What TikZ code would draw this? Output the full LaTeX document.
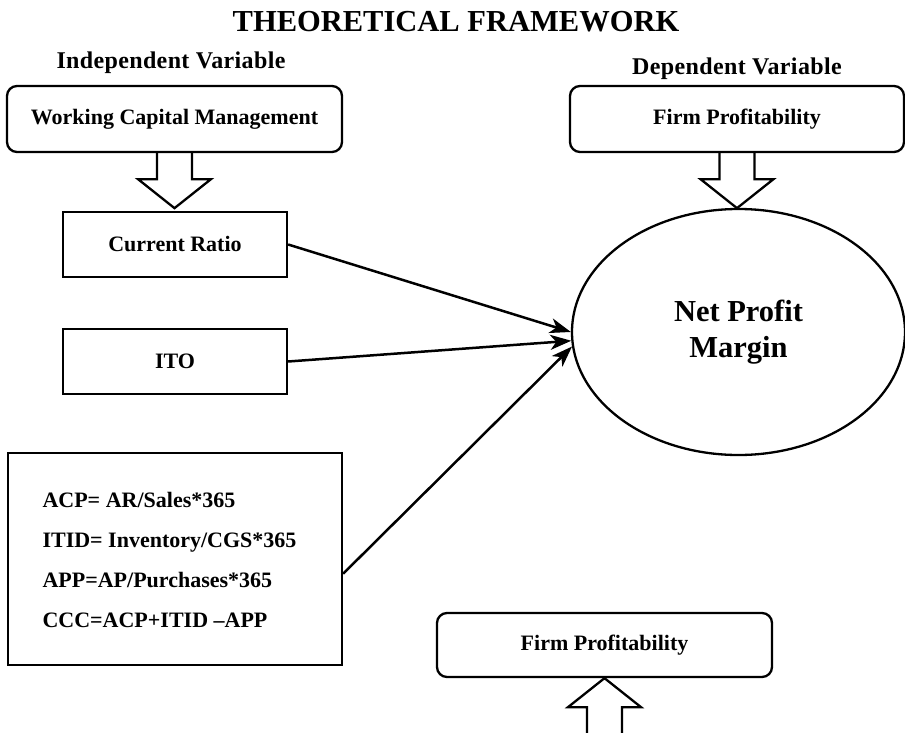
\documentclass[tikz,border=0pt]{standalone}
\usepackage{fontspec}
\setmainfont{Liberation Serif}
\usepackage{tikz}
\usetikzlibrary{calc}
\usetikzlibrary{shapes, arrows.meta}
\usetikzlibrary{positioning}

\begin{document}
\begin{tikzpicture}[x=1pt, y=-1pt]
    % --- Styles ---
    \tikzstyle{heading}=[font=\fontsize{30.5}{34}\selectfont\bfseries, anchor=base]
    \tikzstyle{var_heading}=[font=\fontsize{24}{28}\selectfont\bfseries\addfontfeatures{LetterSpace=1.5}, anchor=base]
    \tikzstyle{round_box}=[draw, line width=2.3pt, rounded corners=10pt, inner sep=0pt, font=\fontsize{22}{26}\selectfont\bfseries]
    \tikzstyle{plain_box}=[draw, line width=2.3pt, inner sep=0pt, font=\fontsize{22}{26}\selectfont\bfseries]
    \tikzstyle{outcome}=[draw, ellipse, line width=2.3pt, inner sep=0pt, align=center, font=\fontsize{30.5}{36}\selectfont\bfseries]
    \tikzstyle{formula_text}=[align=left, anchor=west, font=\fontsize{22}{40}\selectfont\bfseries]
    \tikzstyle{block_arrow}=[line width=2.3pt, line join=miter]
    \tikzstyle{link}=[line width=2.5pt, -{Stealth[length=21pt, width=15pt, inset=6pt]}]

    \useasboundingbox (0,0) rectangle (905,733);

    % --- 1. Headings ---
    \node[heading] (title) at (456,32) {THEORETICAL FRAMEWORK};
    \node[var_heading] (indep) at (171,69) {Independent Variable};
    \node[var_heading] (dep) at (737,75) {Dependent Variable};

    % --- 2. Boxes ---
    \node[round_box, minimum width=335, minimum height=66] (wcm) at (174.5,119) {Working Capital Management};
    \node[round_box, minimum width=334, minimum height=66] (fp_top) at (737,119) {Firm Profitability};
    \node[plain_box, minimum width=224, minimum height=65] (cr) at (175,244.5) {Current Ratio};
    \node[plain_box, minimum width=224, minimum height=65] (ito) at (175,361.5) {ITO};
    \node[plain_box, minimum width=334, minimum height=212] (ccc_box) at (175,559) {};
    \node[formula_text] (ccc_text) at (39,560) {ACP= AR/Sales*365\\ITID= Inventory/CGS*365\\APP=AP/Purchases*365\\CCC=ACP+ITID --APP};
    \node[round_box, minimum width=335, minimum height=64] (fp_bot) at (604.5,645) {Firm Profitability};

    % Dependent variable
    \node[outcome, minimum width=333, minimum height=246] (npm) at (738.5,332) {Net Profit\\Margin};

    % --- 3. Block arrows ---
    \draw[block_arrow] ($(wcm.south)+(-17.5,0)$) -- ++(0,26) -- ++(-19,0) -- ($(wcm.south)+(0,55)$)
        -- ($(wcm.south)+(36.5,26)$) -- ++(-19,0) -- ($(wcm.south)+(17.5,0)$);
    \draw[block_arrow] ($(fp_top.south)+(-17.5,0)$) -- ++(0,26) -- ++(-19,0) -- ($(fp_top.south)+(0,55)$)
        -- ($(fp_top.south)+(36.5,26)$) -- ++(-19,0) -- ($(fp_top.south)+(17.5,0)$);
    \draw[block_arrow] ($(fp_bot.south)+(-17.5,60)$) -- ++(0,-31) -- ++(-19,0) -- (fp_bot.south)
        -- ($(fp_bot.south)+(36.5,29)$) -- ++(-19,0) -- ++(0,31);

    % --- 4. Links to the outcome ---
    \draw[link] (cr.east) -- (npm.west);
    \draw[link] (ito.east) -- (npm.183);
    \draw[link] (ccc_box.-5) -- (npm.185);
\end{tikzpicture}
\end{document}
